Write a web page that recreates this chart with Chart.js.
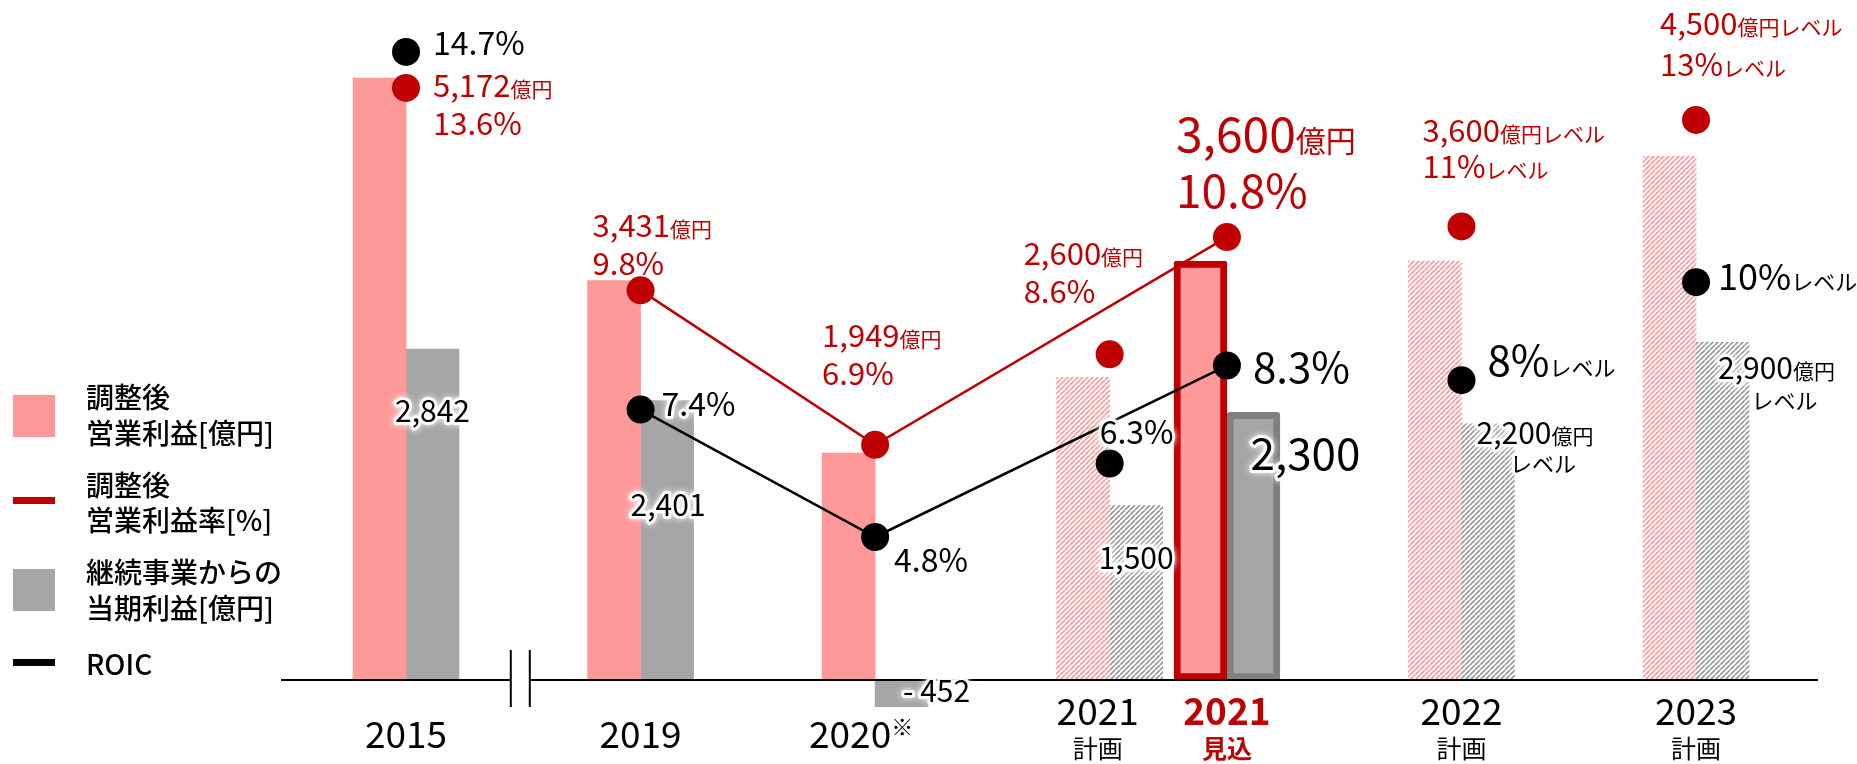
<!DOCTYPE html>
<html><head><meta charset="utf-8">
<script src="https://cdn.jsdelivr.net/npm/chart.js@4/dist/chart.umd.min.js"></script>
<style>html,body{margin:0;padding:0;background:#fff}#wrap{width:1857px;height:764px;position:relative}</style>
</head><body><div id="wrap"><canvas id="c"></canvas></div>
<script>
// ---------- data ----------
const years     = ['2015', '2019', '2020', '2021', '2021', '2022', '2023'];
const yearNote  = ['', '', '※', '', '', '', ''];
const yearSub   = ['', '', '', '計画', '見込', '計画', '計画'];
const slot      = [0, 1, 2, 3, 3.5, 4.5, 5.5];            // category position on the x axis
const kind      = ['actual', 'actual', 'actual', 'plan', 'forecast', 'plan', 'plan'];
const isLevel   = [false, false, false, false, false, true, true];
const opProfit  = [5172, 3431, 1949, 2600, 3600, 3600, 4500];   // 調整後営業利益[億円]
const netProfit = [2842, 2401, -452, 1500, 2300, 2200, 2900];   // 継続事業からの当期利益[億円]
const opMargin  = [13.6, 9.8, 6.9, 8.6, 10.8, 11, 13];          // 調整後営業利益率[%]
const roic      = [14.7, 7.4, 4.8, 6.3, 8.3, 8, 10];            // ROIC[%]
const trendIdx  = [1, 2, 4];                                     // points joined by the trend lines

// ---------- styles ----------
const PINK = '#FF9999', RED = '#C00000', GRAY = '#A6A6A6', DGRAY = '#808080', BLACK = '#000000';
const FONT = '"Noto Sans CJK JP","Noto Sans",sans-serif';
const fnt = (s, w) => `${w || 'normal'} ${s}px ${FONT}`;

function hatch(color) {
  const s = 5, c = document.createElement('canvas'); c.width = s; c.height = s;
  const g = c.getContext('2d'); g.strokeStyle = color; g.lineWidth = 1.7;
  g.beginPath();
  for (let k = -1; k <= 1; k++) { g.moveTo(k * s, s); g.lineTo(k * s + s, 0); }
  g.stroke();
  return g.createPattern(c, 'repeat');
}
const pinkHatch = hatch(PINK), grayHatch = hatch('#999999');

const fmt = n => n < 0 ? '- ' + Math.abs(n).toLocaleString('en-US') : n.toLocaleString('en-US');

function rich(ctx, parts, x, y, align, color, halo) {
  let total = 0;
  const ws = parts.map(p => { ctx.font = fnt(p[1], p[2]); const w = ctx.measureText(p[0]).width; total += w; return w; });
  let sx = align === 'center' ? x - total / 2 : (align === 'right' ? x - total : x);
  ctx.save(); ctx.textAlign = 'left'; ctx.textBaseline = 'alphabetic';
  if (halo) {
    let hx = sx;
    ctx.strokeStyle = 'rgba(255,255,255,0.9)'; ctx.lineWidth = 6; ctx.lineJoin = 'round';
    ctx.shadowColor = '#ffffff'; ctx.shadowBlur = 6;
    parts.forEach((p, i) => { ctx.font = fnt(p[1], p[2]); ctx.strokeText(p[0], hx, y); hx += ws[i]; });
    ctx.shadowBlur = 0;
  }
  ctx.fillStyle = color;
  parts.forEach((p, i) => { ctx.font = fnt(p[1], p[2]); ctx.fillText(p[0], sx, y); sx += ws[i]; });
  ctx.restore();
}

// label layout (offsets from the mark they describe)
const redLab = [
  { dx: 27, d1: 9, d2: 47 }, { dx: -48, d1: -53, d2: -15 }, { dx: -53, d1: -98, d2: -60 },
  { dx: -86, d1: -89, d2: -51 }, { dx: -51, d1: -85, d2: -29, big: true },
  { dx: -39, d1: -84, d2: -48 }, { dx: -36, d1: -85, d2: -44 }
];
const blkLab = [
  { dx: 27, dy: 3, s: 32 }, { dx: 21, dy: 6, s: 32, halo: true }, { dx: 19, dy: 35, s: 32 },
  { dx: -10, dy: -19, s: 32, halo: true }, { dx: 26, dy: 17, s: 42 }, { dx: 26, dy: -4, s: 42 }, { dx: 22, dy: 8, s: 36 }
];
const grayLab = [
  { dx: 0, dy: 73, s: 30 }, { dx: 1, dy: 115, s: 30 }, { dx: 35, dy: 22, s: 30 }, { dx: 0, dy: 64, s: 30 },
  { dx: 52, dy: 58, s: 44 }, { dx: 47, dy: 20, s: 30, dx2: 55, dy2: 48 }, { dx: 54, dy: 37, s: 30, dx2: 62, dy2: 67 }
];

const annot = {
  id: 'annot',
  afterDatasetsDraw(chart) {
    const ctx = chart.ctx, xs = chart.scales.x, ys = chart.scales.y, ca = chart.chartArea;
    const zero = ys.getPixelForValue(0);
    // base line with axis break
    const bx = (xs.getPixelForValue(slot[0]) + xs.getPixelForValue(slot[1])) / 2 - 3;
    ctx.save(); ctx.strokeStyle = BLACK; ctx.lineWidth = 2;
    ctx.beginPath();
    ctx.moveTo(ca.left, zero); ctx.lineTo(bx - 9.5, zero);
    ctx.moveTo(bx + 9.5, zero); ctx.lineTo(ca.right, zero);
    ctx.moveTo(bx - 9.5, zero - 30); ctx.lineTo(bx - 9.5, zero + 27);
    ctx.moveTo(bx + 9.5, zero - 30); ctx.lineTo(bx + 9.5, zero + 27);
    ctx.stroke(); ctx.restore();

    const redDot = chart.getDatasetMeta(3).data, blkDot = chart.getDatasetMeta(5).data, grayBar = chart.getDatasetMeta(1).data;
    for (let i = 0; i < years.length; i++) {
      // operating profit + margin (red)
      const r = redDot[i], L = redLab[i];
      const big = L.big, s1 = big ? 48 : 31, s2 = big ? 30 : 21;
      const l1 = [[fmt(opProfit[i]), s1], [isLevel[i] ? '億円レベル' : '億円', s2]];
      const l2 = [[String(opMargin[i]) + '%', big ? 46 : s1]];
      if (isLevel[i]) l2.push(['レベル', s2]);
      rich(ctx, l1, r.x + L.dx, r.y + L.d1, 'left', RED);
      rich(ctx, l2, r.x + L.dx, r.y + L.d2, 'left', RED);
      // ROIC (black)
      const b = blkDot[i], B = blkLab[i];
      const pb = [[String(roic[i]) + '%', B.s]];
      if (isLevel[i]) pb.push(['レベル', 22]);
      rich(ctx, pb, b.x + B.dx, b.y + B.dy, 'left', BLACK, B.halo);
      // net profit (gray bars)
      const g = grayBar[i], G = grayLab[i];
      const top = ys.getPixelForValue(Math.max(netProfit[i], 0));
      if (isLevel[i]) {
        rich(ctx, [[fmt(netProfit[i]), G.s], ['億円', 21]], g.x + G.dx, top + G.dy, 'center', BLACK, true);
        rich(ctx, [['レベル', 22]], g.x + G.dx2, top + G.dy2, 'center', BLACK, true);
      } else {
        rich(ctx, [[fmt(netProfit[i]), G.s]], g.x + G.dx, top + G.dy, 'center', BLACK, true);
      }
      // x labels
      const cx = xs.getPixelForValue(slot[i]);
      const fc = kind[i] === 'forecast';
      const col = fc ? RED : BLACK, wt = fc ? 'bold' : 'normal';
      if (yearSub[i]) {
        const ox = i === 3 ? -12 : 0;
        rich(ctx, [[years[i], 37, wt]], cx + ox, zero + 45, 'center', col);
        rich(ctx, [[yearSub[i], 25, wt]], cx + ox, zero + 78, 'center', col);
      } else if (yearNote[i]) {
        ctx.font = fnt(37); const w = ctx.measureText(years[i]).width;
        const lx = cx - 25 - w / 2;
        rich(ctx, [[years[i], 37]], lx, zero + 68, 'left', BLACK);
        rich(ctx, [[yearNote[i], 22]], lx + w, zero + 55, 'left', BLACK);
      } else {
        rich(ctx, [[years[i], 37]], cx, zero + 68, 'center', BLACK);
      }
    }
  },
  afterDraw(chart) {
    const ctx = chart.ctx;
    ctx.save();
    ctx.fillStyle = PINK; ctx.fillRect(13, 395, 42, 42);
    ctx.fillStyle = RED; ctx.fillRect(13, 497, 42, 7);
    ctx.fillStyle = GRAY; ctx.fillRect(13, 569, 42, 42);
    ctx.fillStyle = BLACK; ctx.fillRect(13, 659, 42, 7);
    ctx.fillStyle = BLACK; ctx.textAlign = 'left'; ctx.textBaseline = 'middle'; ctx.font = fnt(28, '500');
    const items = [['調整後', 397], ['営業利益[億円]', 433], ['調整後', 485], ['営業利益率[%]', 520],
                   ['継続事業からの', 572], ['当期利益[億円]', 608], ['ROIC', 664]];
    items.forEach(t => ctx.fillText(t[0], 86, t[1]));
    ctx.restore();
  }
};

const pts = arr => slot.map((x, i) => ({ x, y: arr[i] }));
const trend = arr => trendIdx.map(i => ({ x: slot[i], y: arr[i] }));

new Chart(document.getElementById('c'), {
  data: {
    datasets: [
      { type: 'bar', label: '調整後営業利益[億円]', data: pts(opProfit), yAxisID: 'y',
        backgroundColor: kind.map(k => k === 'plan' ? pinkHatch : PINK),
        borderColor: RED, borderWidth: kind.map(k => k === 'forecast' ? 7 : 0),
        borderSkipped: kind.map(k => k === 'forecast' ? false : 'start'),
        borderRadius: kind.map(k => k === 'forecast' ? 3 : 0),
        barThickness: 53, order: 5, clip: 0 },
      { type: 'bar', label: '継続事業からの当期利益[億円]', data: pts(netProfit), yAxisID: 'y',
        backgroundColor: kind.map(k => k === 'plan' ? grayHatch : GRAY),
        borderColor: DGRAY, borderWidth: kind.map(k => k === 'forecast' ? 7 : 0),
        borderSkipped: kind.map(k => k === 'forecast' ? false : 'start'),
        borderRadius: kind.map(k => k === 'forecast' ? 3 : 0),
        barThickness: 53, order: 5, clip: 0 },
      { type: 'line', label: '調整後営業利益率[%]', data: trend(opMargin), yAxisID: 'yM',
        borderColor: RED, borderWidth: 2.5, pointRadius: 0, order: 2, clip: false },
      { type: 'line', label: '調整後営業利益率[%] 点', data: pts(opMargin), yAxisID: 'yM', showLine: false,
        pointRadius: 14, pointBackgroundColor: RED, pointBorderWidth: 0, order: 0, clip: false },
      { type: 'line', label: 'ROIC', data: trend(roic), yAxisID: 'yR',
        borderColor: BLACK, borderWidth: 2.5, pointRadius: 0, order: 1, clip: false },
      { type: 'line', label: 'ROIC 点', data: pts(roic), yAxisID: 'yR', showLine: false,
        pointRadius: 14, pointBackgroundColor: BLACK, pointBorderWidth: 0, order: 0, clip: false }
    ]
  },
  options: {
    responsive: true, maintainAspectRatio: false, animation: false, devicePixelRatio: 1, events: [],
    layout: { autoPadding: false, padding: { left: 281, right: 39, top: 0, bottom: 57 } },
    scales: {
      x: { type: 'linear', min: -0.533, max: 6.02, offset: false, display: false },
      y: { type: 'linear', min: -232, max: 5842, display: false },
      yM: { type: 'linear', min: 1.98, max: 15.25, display: false },
      yR: { type: 'linear', min: 1.33, max: 15.76, display: false }
    },
    plugins: { legend: { display: false }, tooltip: { enabled: false } }
  },
  plugins: [annot]
});
</script></body></html>
